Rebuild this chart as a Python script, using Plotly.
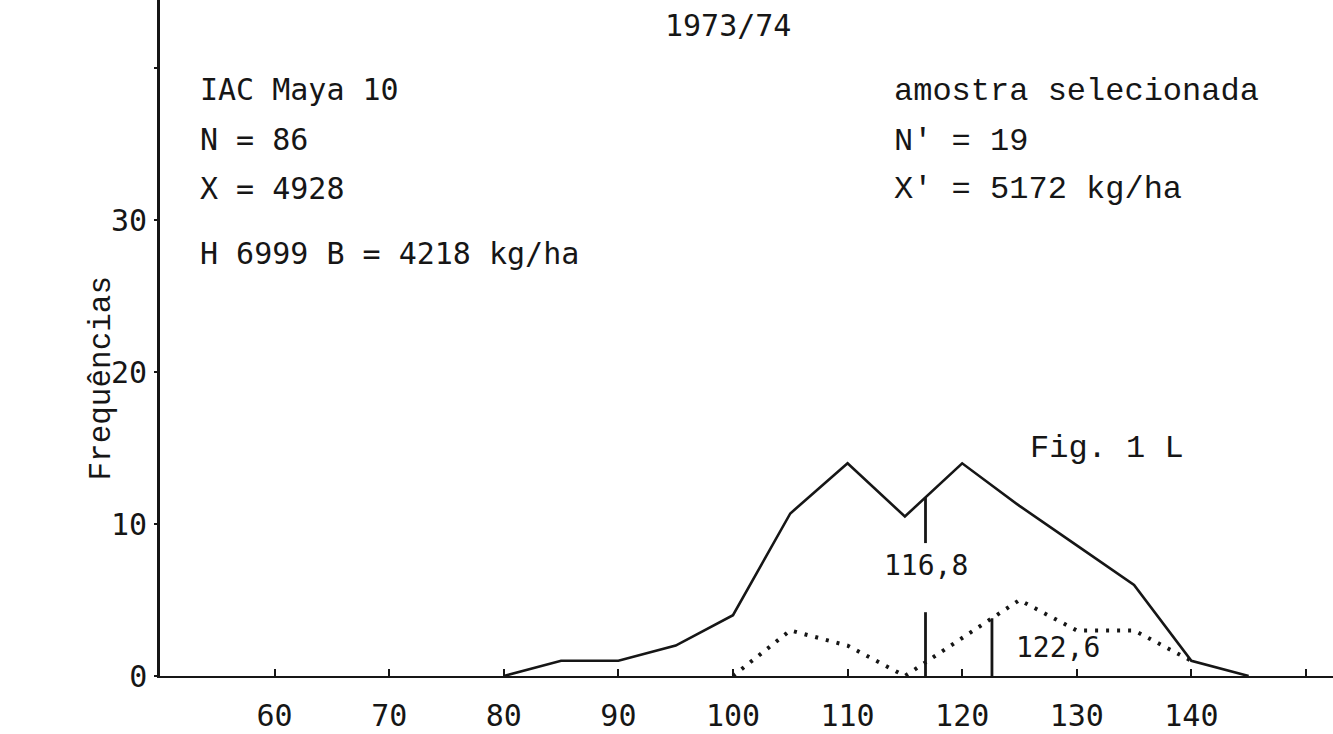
import numpy as np
import plotly.graph_objects as go

# Class midpoints and frequencies for the whole population (IAC Maya 10, N = 86)
total_x = [80, 85, 90, 95, 100, 105, 110, 115, 120, 125, 130, 135, 140, 145]
total_y = [0, 1, 1, 2, 4, 10.7, 14, 10.5, 14, 11.2, 8.6, 6, 1, 0]

# Frequencies of the selected sample (N' = 19)
sample_x = [100, 105, 110, 115, 120, 125, 130, 135, 140]
sample_y = [0, 3, 2, 0, 2.5, 5, 3, 3, 1]

# Means marked on the x axis
mean_total = 116.8
mean_sample = 122.6

x_ticks = [60, 70, 80, 90, 100, 110, 120, 130, 140, 150]
x_labels = ["60", "70", "80", "90", "100", "110", "120", "130", "140", ""]
y_ticks = [0, 10, 20, 30, 40]
y_labels = ["0", "10", "20", "30", ""]

INK = "#161616"
SANS_MONO = "DejaVu Sans Mono"
COURIER = "Liberation Mono"

fig = go.Figure()

fig.add_trace(go.Scatter(
    x=total_x, y=total_y, mode="lines",
    line=dict(color=INK, width=2.6), hoverinfo="skip", showlegend=False,
))
fig.add_trace(go.Scatter(
    x=sample_x, y=sample_y, mode="lines",
    line=dict(color=INK, width=4, dash="3px,8px"), hoverinfo="skip", showlegend=False,
))

# Vertical mean markers, each reaching its own curve
top_total = float(np.interp(mean_total, total_x, total_y))
top_sample = float(np.interp(mean_sample, sample_x, sample_y))
gap_low, gap_high = 4.2, 8.75  # break in the marker around its label
for y0, y1 in [(0, gap_low), (gap_high, top_total)]:
    fig.add_trace(go.Scatter(
        x=[mean_total, mean_total], y=[y0, y1], mode="lines",
        line=dict(color=INK, width=2.8), hoverinfo="skip", showlegend=False,
    ))
fig.add_trace(go.Scatter(
    x=[mean_sample, mean_sample], y=[0, top_sample], mode="lines",
    line=dict(color=INK, width=2.8), hoverinfo="skip", showlegend=False,
))


def label(text, x, y, font=SANS_MONO, size=30, anchor="left"):
    fig.add_annotation(
        x=x, y=y, xref="x", yref="y", text=text, showarrow=False,
        xanchor=anchor, yanchor="middle",
        font=dict(family=font, size=size, color=INK),
    )


label("1973/74", 99.6, 42.8, anchor="center")

label("IAC Maya 10", 53.3, 38.6)
label("N = 86", 53.3, 35.3)
label("X = 4928", 53.3, 32.1)
label("H 6999 B = 4218 kg/ha", 53.3, 27.8)

label("amostra selecionada", 113.9, 38.5, font=COURIER, size=32)
label("N' = 19", 113.9, 35.2, font=COURIER, size=32)
label("X' = 5172 kg/ha", 113.9, 32.0, font=COURIER, size=32)

label("Fig. 1 L", 132.6, 15.0, font=COURIER, size=32, anchor="center")

label(f"{mean_total:.1f}".replace(".", ","), mean_total, 7.3, size=28, anchor="center")
label(f"{mean_sample:.1f}".replace(".", ","), 128.4, 1.85, size=28, anchor="center")

fig.add_annotation(
    x=0, y=0.44, xref="paper", yref="paper", xshift=-58,
    text="Frequências", textangle=-90, showarrow=False,
    xanchor="center", yanchor="middle",
    font=dict(family=COURIER, size=31, color=INK),
)

fig.update_xaxes(
    range=[50, 152.36], showgrid=False, zeroline=False,
    showline=True, linecolor=INK, linewidth=2.2,
    tickmode="array", tickvals=x_ticks, ticktext=x_labels,
    ticks="inside", ticklen=7, tickwidth=2, tickcolor=INK,
    ticklabelstandoff=12,
    tickfont=dict(family=SANS_MONO, size=30, color=INK),
)
fig.update_yaxes(
    range=[0, 44.5], showgrid=False, zeroline=False,
    showline=True, linecolor=INK, linewidth=2.6,
    tickmode="array", tickvals=y_ticks, ticktext=y_labels,
    ticks="outside", ticklen=3, tickwidth=2, tickcolor=INK,
    ticklabelstandoff=1,
    tickfont=dict(family=SANS_MONO, size=30, color=INK),
)

fig.update_layout(
    width=1333, height=734,
    margin=dict(l=160, r=0, t=0, b=58),
    paper_bgcolor="white", plot_bgcolor="white",
    showlegend=False,
)

fig.write_html("out.html")
